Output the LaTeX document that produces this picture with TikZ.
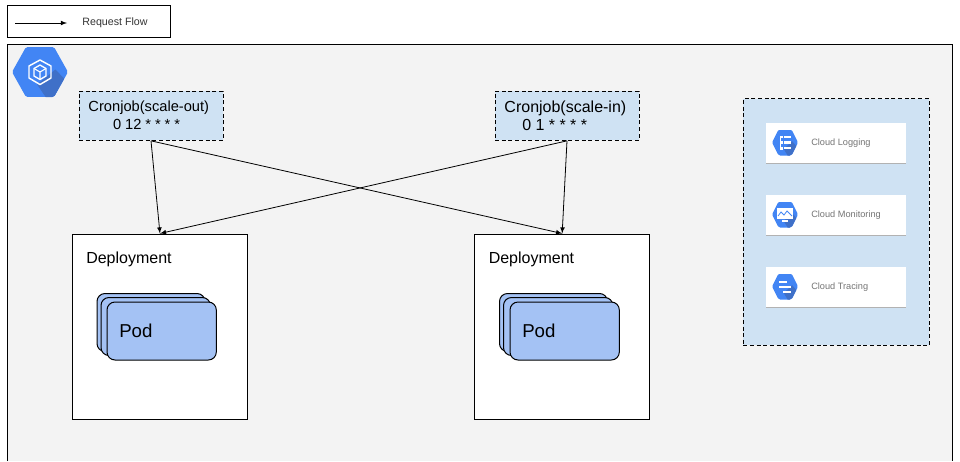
\documentclass[tikz,border=0pt]{standalone}
\usepackage{fontspec}
\setmainfont{Liberation Sans}
\usepackage{xcolor}
\usetikzlibrary{shadows}
\definecolor{panelblue}{HTML}{CFE2F3}
\definecolor{framegrey}{HTML}{F3F3F3}
\definecolor{podblue}{HTML}{A4C2F4}
\definecolor{iconblue}{HTML}{4285F4}
\definecolor{iconshade}{HTML}{3F70C8}
\definecolor{cardtext}{HTML}{757575}
\tikzset{
  cronbox/.style={draw,fill=panelblue,line width=0.75pt,dash pattern=on 3pt off 2pt,align=left,
    anchor=north west,inner xsep=6.5pt,inner ysep=0pt,text width=95pt,minimum height=37pt},
  deploybox/.style={draw,fill=white,line width=0.75pt,anchor=north west,minimum width=131.5pt,minimum height=139pt},
  deploytext/.style={anchor=west,inner sep=0pt,font=\fontsize{12}{14}\selectfont},
  podbox/.style={draw,fill=podblue,line width=0.75pt,rounded corners=6pt,anchor=north west,minimum height=43.5pt},
  podtext/.style={anchor=west,inner sep=0pt,font=\fontsize{14}{16}\selectfont},
  flowline/.style={-latex,line width=0.6pt},
  cardbox/.style={fill=white,anchor=north west,minimum width=105pt,minimum height=30.5pt,
    drop shadow={shadow xshift=0pt,shadow yshift=-0.6pt,fill=black!30,opacity=1}},
  cardtxt/.style={anchor=west,inner sep=0pt,text=cardtext,font=\fontsize{6.9}{8}\selectfont},
}
% hexagon icon: centre x, centre y, half width, half height
\newcommand{\hexbase}[4]{%
  \begin{scope}
    \clip[rounded corners=1.2pt] (#1-#3,#2) -- (#1-#3/2,#2-#4) -- (#1+#3/2,#2-#4) -- (#1+#3,#2) -- (#1+#3/2,#2+#4) -- (#1-#3/2,#2+#4) -- cycle;
    \fill[iconblue] (#1-#3,#2-#4) rectangle (#1+#3,#2+#4);
    \fill[iconshade] (#1-#3*0.1,#2+#4*0.5) -- (#1+#3*0.55,#2-#4*0.1) -- (#1+#3*1.5,#2+#4) -- (#1+#3*0.5,#2+#4*1.5) -- cycle;
  \end{scope}}
\begin{document}
\begin{tikzpicture}[x=0.75pt,y=0.75pt,yscale=-1,xscale=1]
\useasboundingbox (0,0) rectangle (960,461);

% Outer frame, runs off the bottom
\fill[framegrey] (7.5,461) -- (7.5,44) -- (952,44) -- (952,461) -- cycle;
\draw[line width=0.75pt] (7.5,461) -- (7.5,44) -- (952,44) -- (952,461);

% Legend
\node (legendBox) [draw,line width=0.75pt,anchor=north west,minimum width=122pt,minimum height=24pt] at (7,5) {};
\coordinate (legendFrom) at (15,23);
\coordinate (legendTo) at (67,23);
\draw[flowline] (legendFrom) -- (legendTo);
\node (legendText) [text=black!80,font=\fontsize{8}{10}\selectfont] at (115,22.5) {Request Flow};

% Engine icon
\hexbase{40}{72}{28}{25}
\draw[white,line width=1.1pt,line join=round] (40,60) -- (51,66) -- (51,78) -- (40,84.5) -- (29,78) -- (29,66) -- cycle;
\draw[white,line width=1pt,line join=round] (40,65) -- (46,68.5) -- (46,76) -- (40,79.5) -- (34,76) -- (34,68.5) -- cycle;
\draw[white,line width=0.8pt] (34,68.5) -- (40,72) -- (46,68.5) (40,72) -- (40,79.5);

% Cronjobs
\node (cronOut) [cronbox,font=\fontsize{11}{13.5}\selectfont] at (78.5,90.5) {\hspace*{0.6pt}Cronjob(scale-out)\\\hspace*{19pt}\spaceskip=0.27em 0 12 * * * *};
\node (cronIn) [cronbox,font=\fontsize{12}{13.5}\selectfont] at (494.5,90.5) {\hspace*{0.6pt}Cronjob(scale-in)\\\hspace*{14pt}\spaceskip=0.275em 0 1 * * * *};

% Deployments
\node (deployLeft) [deploybox] at (71.8,233.5) {};
\node (deployRight) [deploybox] at (474,233.5) {};
\node (deployLeftText) [deploytext] at (86,259.5) {Deployment};
\node (deployRightText) [deploytext] at (488.5,259.5) {Deployment};

% Pods
\node (podLeftA) [podbox,minimum width=81pt] at (96.5,293) {};
\node (podLeftB) [podbox,minimum width=82pt] at (100.5,297) {};
\node (podLeftC) [podbox,minimum width=82pt] at (106.5,301.5) {};
\node (podLeftText) [podtext] at (119,331) {Pod};
\node (podRightA) [podbox,minimum width=81pt] at (499,293) {};
\node (podRightB) [podbox,minimum width=82pt] at (503,297) {};
\node (podRightC) [podbox,minimum width=82pt] at (509.5,301.5) {};
\node (podRightText) [podtext] at (522,331) {Pod};

% Connectors
\draw[flowline] (cronOut.south) -- (deployLeft.north);
\draw[flowline] (cronOut.south) -- (deployRight.north);
\draw[flowline] (cronIn.south) -- (deployLeft.north);
\draw[flowline] (cronIn.south) -- (deployRight.north);

% Services panel
\node (servicePanel) [draw,fill=panelblue,line width=0.75pt,dash pattern=on 3pt off 2pt,anchor=north west,minimum width=139.5pt,minimum height=185pt] at (742.8,98) {};
\node (cardLogging) [cardbox] at (766,122.5) {};
\node (cardMonitoring) [cardbox] at (766,194.5) {};
\node (cardTracing) [cardbox] at (766,266.5) {};
\node (loggingText) [cardtxt] at (811,143) {Cloud Logging};
\node (monitoringText) [cardtxt] at (811,215) {Cloud Monitoring};
\node (tracingText) [cardtxt] at (811,287) {Cloud Tracing};

% Logging icon
\hexbase{785}{142.5}{13}{13}
\draw[white,line width=0.6pt] (780,136) -- (780,149) -- (783,149) (780,142.5) -- (783,142.5);
\foreach \y in {137,142.5,148} {
  \fill[white] (780,\y-1.2) rectangle (782.5,\y+1.2);
  \fill[white] (784,\y-1.2) rectangle (791,\y+1.2);
}

% Monitoring icon
\hexbase{785}{214.5}{13}{13}
\fill[white] (777,208) rectangle (793,219);
\fill[white] (782,220) rectangle (788,221.5);
\draw[iconblue,line width=0.6pt] (778,216) -- (781,212) -- (784,215) -- (787,211) -- (792,216);

% Tracing icon
\hexbase{785}{286.5}{13}{13}
\fill[white] (779,280.5) rectangle (787,282.5);
\fill[white] (779,285.5) rectangle (791,287.5);
\fill[white] (783,291) rectangle (791,293);

\end{tikzpicture}
\end{document}
